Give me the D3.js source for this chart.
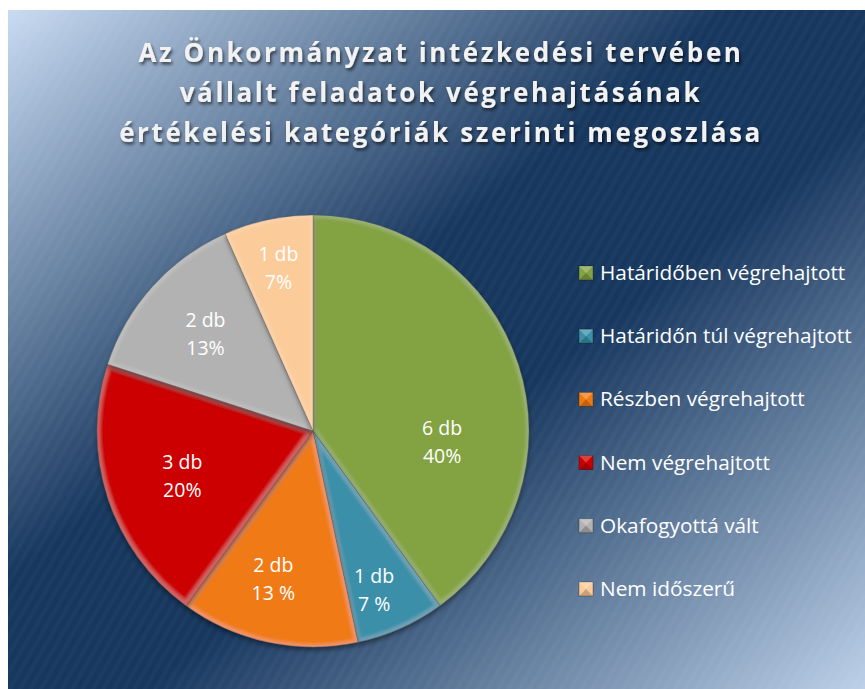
<!DOCTYPE html>
<html><head><meta charset="utf-8">
<script src="https://cdn.jsdelivr.net/npm/d3@7"></script>
<style>html,body{margin:0;padding:0;background:#fff;}svg{display:block;}</style>
</head><body>
<svg id="chart" width="865" height="689"></svg>
<script>
const titleLines = ["Az Önkormányzat intézkedési tervében", "vállalt feladatok végrehajtásának", "értékelési kategóriák szerinti megoszlása"];
const categories = ["Határidőben végrehajtott", "Határidőn túl végrehajtott", "Részben végrehajtott", "Nem végrehajtott", "Okafogyottá vált", "Nem időszerű"];
const counts = [6, 1, 2, 3, 2, 1];
const percentLabels = ["40%", "7 %", "13 %", "20%", "13%", "7%"];
const colors = ["#83a243", "#3b8fa8", "#f07a12", "#cc0000", "#b2b2b2", "#fbcb99"];
// label placement tweaks (Excel best-fit look)
const labelAngleShift = [23, 3, 3, -1, 0, 0];
const labelRadiusFrac = [0.6, 0.79, 0.71, 0.64, 0.67, 0.77];

const svg = d3.select("#chart");
const W = 865, H = 689;
const defs = svg.append("defs");

const bg = defs.append("linearGradient").attr("id", "bg").attr("x1", 0).attr("y1", 0).attr("x2", 1).attr("y2", 1);
[[0, "#c8dbf2"], [0.42, "#17375e"], [0.58, "#17375e"], [1, "#bcd0e8"]].forEach(s => bg.append("stop").attr("offset", s[0]).attr("stop-color", s[1]));

const pat = defs.append("pattern").attr("id", "stripes").attr("patternUnits", "userSpaceOnUse")
  .attr("width", 9).attr("height", 9).attr("patternTransform", "rotate(30)");
pat.append("rect").attr("width", 4).attr("height", 9).attr("fill", "#ffffff").attr("opacity", 0.022);

const ts = defs.append("filter").attr("id", "tshadow").attr("x", "-5%").attr("y", "-20%").attr("width", "110%").attr("height", "160%");
ts.append("feDropShadow").attr("dx", 1.5).attr("dy", 2.5).attr("stdDeviation", 1.8).attr("flood-color", "#000").attr("flood-opacity", 0.6);

// bevel-ish filter: subtle lighter rim + drop shadow
const bev = defs.append("filter").attr("id", "bevel").attr("x", "-10%").attr("y", "-10%").attr("width", "120%").attr("height", "125%");
bev.append("feMorphology").attr("in", "SourceAlpha").attr("operator", "erode").attr("radius", 3).attr("result", "er");
bev.append("feGaussianBlur").attr("in", "er").attr("stdDeviation", 1.5).attr("result", "erb");
bev.append("feComposite").attr("in", "SourceAlpha").attr("in2", "erb").attr("operator", "out").attr("result", "rim");
bev.append("feFlood").attr("flood-color", "#ffffff").attr("flood-opacity", 0.12).attr("result", "wf");
bev.append("feComposite").attr("in", "wf").attr("in2", "rim").attr("operator", "in").attr("result", "hl");
bev.append("feOffset").attr("in", "SourceAlpha").attr("dy", 3).attr("result", "off");
bev.append("feGaussianBlur").attr("in", "off").attr("stdDeviation", 2.5).attr("result", "sh");
bev.append("feFlood").attr("flood-color", "#000").attr("flood-opacity", 0.45);
bev.append("feComposite").attr("in2", "sh").attr("operator", "in").attr("result", "shadow");
const mg = bev.append("feMerge");
mg.append("feMergeNode").attr("in", "shadow");
mg.append("feMergeNode").attr("in", "SourceGraphic");
mg.append("feMergeNode").attr("in", "hl");

// background
const X0 = 8, Y0 = 10;
svg.append("rect").attr("x", X0).attr("y", Y0).attr("width", W - X0).attr("height", H - Y0).attr("fill", "url(#bg)");
svg.append("rect").attr("x", X0).attr("y", Y0).attr("width", W - X0).attr("height", H - Y0).attr("fill", "url(#stripes)");

// title
const title = svg.append("text").attr("text-anchor", "middle").attr("fill", "#f2f2f2")
  .attr("font-family", "'Open Sans', Lato, sans-serif").attr("font-weight", "bold").attr("font-size", 26)
  .attr("letter-spacing", 2.6).attr("filter", "url(#tshadow)");
titleLines.forEach((l, i) => title.append("tspan").attr("x", 441).attr("y", 62 + i * 40).text(l));

// pie
const cx = 313, cy = 431, R = 216;
const pie = d3.pie().value(d => d).sort(null);
const arcs = pie(counts);
const arc = d3.arc().innerRadius(0).outerRadius(R);
const g = svg.append("g").attr("transform", `translate(${cx},${cy})`);
g.selectAll("path.slice").data(arcs).join("path").attr("class", "slice")
  .attr("d", arc).attr("fill", (d, i) => colors[i]).attr("stroke", "rgba(0,0,0,0.3)").attr("stroke-width", 0.8)
  .attr("filter", "url(#bevel)");

const lab = g.selectAll("text.lbl").data(arcs).join("text").attr("class", "lbl")
  .attr("text-anchor", "middle").attr("fill", "#ffffff")
  .attr("font-family", "'Open Sans', Lato, sans-serif").attr("font-size", 19.5)
  .attr("transform", (d, i) => {
    const a = (d.startAngle + d.endAngle) / 2 + labelAngleShift[i] * Math.PI / 180;
    const r = R * labelRadiusFrac[i];
    return `translate(${r * Math.sin(a)},${-r * Math.cos(a)})`;
  });
lab.append("tspan").attr("x", 0).attr("dy", -7).text((d, i) => counts[i] + " db");
lab.append("tspan").attr("x", 0).attr("dy", 28).text((d, i) => percentLabels[i]);

// legend
const leg = svg.append("g").attr("transform", "translate(579,273)");
const items = leg.selectAll("g").data(categories).join("g").attr("transform", (d, i) => `translate(0,${i * 63.2})`);
items.append("rect").attr("x", 0).attr("y", -7).attr("width", 14).attr("height", 14)
  .attr("fill", (d, i) => colors[i]).attr("stroke", "rgba(0,0,0,0.35)").attr("stroke-width", 0.8);
items.append("path").attr("d", "M0,-7 L14,-7 L7,0 Z").attr("fill", "rgba(255,255,255,0.25)");
items.append("path").attr("d", "M0,7 L14,7 L7,0 Z").attr("fill", "rgba(0,0,0,0.2)");
items.append("text").attr("x", 21).attr("y", 7).attr("fill", "#ffffff")
  .attr("font-family", "'Open Sans', Lato, sans-serif").attr("font-size", 20.8).text(d => d);
</script>
</body></html>
